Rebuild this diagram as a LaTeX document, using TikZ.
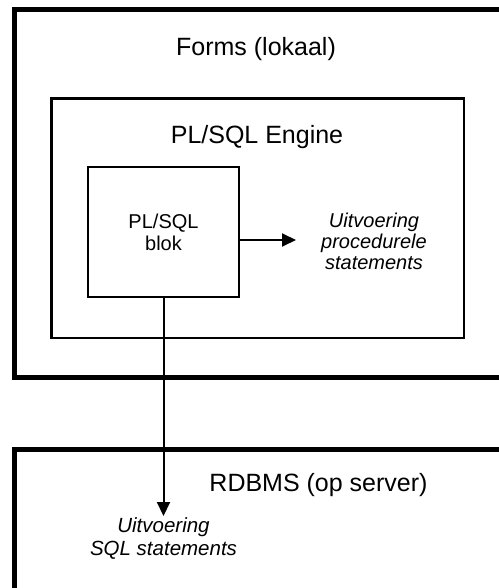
\documentclass[tikz,border=0pt]{standalone}
\usepackage{fontspec}
\setmainfont{Liberation Sans}
\usetikzlibrary{arrows.meta}
\begin{document}
\begin{tikzpicture}[x=1pt, y=-1pt,
  heavy/.style={draw, line width=5pt, inner sep=0pt},
  panel/.style={draw, line width=2.4pt, inner sep=0pt},
  blockbox/.style={draw, line width=2pt, inner sep=0pt, align=center,
    font=\fontsize{20}{22}\selectfont},
  title/.style={font=\fontsize{25}{30}\selectfont, inner sep=0pt, anchor=base},
  note/.style={font=\fontsize{20}{21}\selectfont\itshape, align=center, inner sep=0pt},
  flow/.style={line width=2pt, -{Triangle[length=14pt,width=13pt]}}]
\useasboundingbox (0,0) rectangle (498,588);

% client side: Forms running locally
\node[heavy, minimum width=497.5pt, minimum height=367.5pt] (forms) at (263.25,193.75) {};
\node[title] (formstitle) at (256,56) {Forms (lokaal)};

% PL/SQL engine inside Forms
\node[panel, minimum width=412.5pt, minimum height=239.5pt] (engine) at (257.75,218.25) {};
\node[title] (enginetitle) at (257,143) {PL/SQL Engine};

% the PL/SQL block handed to the engine
\node[blockbox, minimum width=151pt, minimum height=130pt] (block) at (163.5,232) {PL/SQL\\blok};

% procedural statements run in the engine
\node[note] (proc) at (374,241) {Uitvoering\\procedurele\\statements};
\coordinate (procend) at (296,240);
\draw[flow] (block.east |- procend) -- (procend);

% server side: the database
\node[heavy, minimum width=497.5pt, minimum height=151pt] (rdbms) at (263.25,524.5) {};
\node[title] (rdbmstitle) at (318.5,491) {RDBMS (op server)};

% SQL statements run on the server
\coordinate (sqlend) at (163.5,516);
\draw[flow] (block.south) -- (sqlend);
\node[note, font=\fontsize{20.5}{23}\selectfont\itshape] (sql) at (163.5,538.5) {Uitvoering\\SQL statements};
\end{tikzpicture}
\end{document}
